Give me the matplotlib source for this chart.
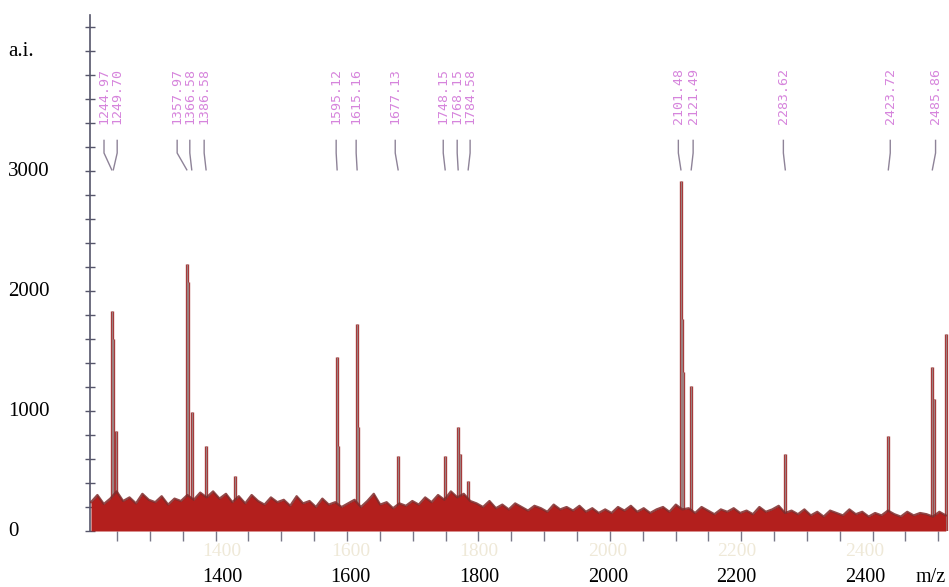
import numpy as np
import matplotlib.pyplot as plt
from matplotlib.transforms import blended_transform_factory

# peak positions (m/z, as read against the printed scale) and intensities (a.i.)
peak_mz = [1228.3, 1230.8, 1235.0,
           1345.1, 1347.1, 1352.8, 1375.1, 1420.2,
           1579.0, 1580.5, 1610.1, 1611.7, 1673.9,
           1747.1, 1767.3, 1770.4, 1782.9,
           2113.9, 2115.2, 2116.4, 2129.9,
           2276.3, 2436.6, 2505.1, 2508.2, 2526.8]
peak_int = [1830, 1600, 830,
            2225, 2075, 990, 710, 460,
            1450, 710, 1725, 870, 625,
            625, 870, 640, 415,
            2920, 1770, 1325, 1210,
            640, 790, 1370, 1100, 1640]

# noise floor, one value every 10 m/z from 1196
noise_start = 1196
noise_int = [240, 300, 225, 270, 330, 250, 280, 230, 310, 260,
             240, 290, 220, 270, 250, 300, 260, 320, 280, 330,
             270, 310, 240, 290, 230, 300, 250, 220, 280, 240,
             260, 210, 290, 230, 250, 200, 270, 220, 240, 200,
             230, 260, 200, 250, 310, 220, 240, 190, 230, 210,
             250, 220, 280, 240, 300, 260, 330, 280, 310, 250,
             230, 200, 250, 190, 220, 180, 230, 200, 170, 210,
             190, 160, 220, 180, 200, 170, 210, 160, 190, 150,
             180, 150, 200, 170, 210, 160, 190, 150, 180, 200,
             160, 220, 180, 190, 150, 200, 170, 140, 180, 160,
             190, 150, 170, 140, 200, 160, 180, 210, 150, 170,
             140, 180, 130, 160, 120, 170, 150, 130, 180, 140,
             160, 120, 150, 130, 170, 140, 120, 160, 130, 150,
             140, 120, 160, 130]

# labelled peaks
annot_mz = [1228.3, 1230.8, 1345.1, 1352.8, 1375.1, 1579.0, 1610.1, 1673.9,
            1747.1, 1767.3, 1782.9, 2113.9, 2129.9, 2276.3, 2436.6, 2505.1]
annot_text = ['1244.97', '1249.70', '1357.97', '1366.58', '1386.58', '1595.12',
              '1615.16', '1677.13', '1748.15', '1768.15', '1784.58', '2101.48',
              '2121.49', '2283.62', '2423.72', '2485.86']

xlabels = [1400, 1600, 1800, 2000, 2200, 2400]
yticks_labelled = [0, 1000, 2000, 3000]

fig = plt.figure(figsize=(9.49, 5.87), dpi=100)
ax = fig.add_axes([90/949, 1 - 531/587, 859/949, 516/587])

# peaks
ax.vlines(peak_mz, 0, peak_int, color='#a83232', linewidth=2.4, zorder=2)
ax.vlines(peak_mz, 0, peak_int, color='#9c8080', linewidth=0.9, zorder=3)

# noise floor
x_noise = noise_start + 10 * np.arange(len(noise_int))
ax.fill_between(x_noise, 0, noise_int, color='#b31f1d', linewidth=0, zorder=4)
ax.plot(x_noise, noise_int, color='#7e2a2a', linewidth=1.6, alpha=0.85, zorder=5)

# annotations
offsets = [-12, 6, -15, -3, -3, -1.5, -1.5, -4.5, -3, -1.5, 3, -4, 3, -3, 3, 5]
for mz, txt, off in zip(annot_mz, annot_text, offsets):
    lx = mz + off
    ax.plot([lx, lx, mz], [3255, 3150, 3010], color='#8e8398', linewidth=1.0, zorder=3)
    ax.text(lx, 3390, txt, rotation=90, ha='center', va='bottom',
            fontsize=9.5, family='DejaVu Sans Mono', color='#cf6fd6', alpha=0.85)

ax.set_xlim(1194.5, 2531)
ax.set_ylim(0, 4300)

for s in ['top', 'right', 'bottom']:
    ax.spines[s].set_visible(False)
ax.spines['left'].set_color('#55556a')
ax.spines['left'].set_linewidth(1.2)

ax.set_yticks(np.arange(0, 4300, 200))
ax.tick_params(axis='y', direction='inout', length=7, width=1, color='#55556a',
               labelleft=False)
ax.set_xticks(np.linspace(1236.6, 2514.4, 26))
ax.tick_params(axis='x', direction='out', length=7, width=1, color='#777788',
               labelbottom=False)

serif = 'Liberation Serif'
ty = blended_transform_factory(fig.transFigure, ax.transData)
for v in yticks_labelled:
    ax.text(8/949, v, str(v), transform=ty, ha='left', va='center',
            fontsize=15, family=serif)
fig.text(8/949, 1 - 52/587, 'a.i.', ha='left', va='center', fontsize=15, family=serif)

tx = blended_transform_factory(ax.transData, fig.transFigure)
for v in xlabels:
    ax.text(v, 1 - 552/587, str(v), transform=tx, ha='center', va='center',
            fontsize=14, family=serif, color='#efe9d8')
    ax.text(v, 1 - 577/587, str(v), transform=tx, ha='center', va='center',
            fontsize=14.5, family=serif)
fig.text(931/949, 1 - 577/587, 'm/z', ha='center', va='center', fontsize=14.5, family=serif)

fig.savefig('out.png', dpi=100)
